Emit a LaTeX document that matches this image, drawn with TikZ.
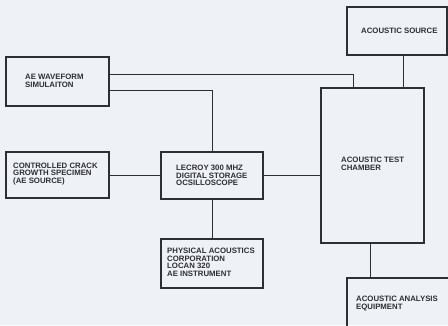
\documentclass[tikz,border=0pt]{standalone}
\usepackage{fontspec}
\setmainfont{Liberation Sans}
\definecolor{paper}{HTML}{EEF1F5}
\definecolor{ink}{HTML}{2E2E33}
\tikzset{
  box/.style={draw=ink, line width=1.2pt, rectangle, inner sep=0pt},
  txt/.style={anchor=west, align=left, inner sep=0pt, text=ink,
    font=\fontsize{7.8}{7.6}\selectfont\bfseries},
  wire/.style={draw=ink, line width=0.9pt}
}
\begin{document}
\begin{tikzpicture}[x=1pt,y=-1pt]

  \fill[paper] (0,0) rectangle (448,325);
  \useasboundingbox (0,0) rectangle (448,325);
  \clip (0,0) rectangle (448,325);

  % Boxes
  \node[box, minimum width=103pt, minimum height=49pt] at(57.5,81.5)(wave){};
  \node[box, minimum width=103pt, minimum height=46pt] at(57.5,175)(crack){};
  \node[box, minimum width=102pt, minimum height=47pt] at(212,175.5)(lecroy){};
  \node[box, minimum width=102pt, minimum height=49pt] at(212,263.5)(phys){};
  \node[box, minimum width=100pt, minimum height=48pt] at(397,31)(source){};
  \node[box, minimum width=103pt, minimum height=155pt] at(372.5,165.5)(chamber){};
  \node[box, minimum width=106pt, minimum height=58pt] at(400,307)(analysis){};

  % Labels
  \node[txt] at(25,81)(wavetext){AE WAVEFORM\\SIMULAITON};
  \node[txt] at(13,174)(cracktext){CONTROLLED CRACK\\GROWTH SPECIMEN\\(AE SOURCE)};
  \node[txt] at(176,175.5)(lecroytext){LECROY 300 MHZ\\DIGITAL STORAGE\\OCSILLOSCOPE};
  \node[txt] at(167,262.5)(physttext){PHYSICAL ACOUSTICS\\CORPORATION\\LOCAN 320\\AE INSTRUMENT};
  \node[txt] at(361,31)(sourcetext){ACOUSTIC SOURCE};
  \node[txt] at(341,164)(chambertext){ACOUSTIC TEST\\CHAMBER};
  \node[txt] at(356,303.5)(analysistext){ACOUSTIC ANALYSIS\\EQUIPMENT};

  % Connections
  \coordinate (trig) at(353,88);
  \draw[wire] ([yshift=7.5pt]wave.east) -| (trig);
  \draw[wire] ([yshift=-8.5pt]wave.east) -| (lecroy.north);
  \draw[wire] (crack.east) -- (crack.east -| lecroy.west);
  \draw[wire] (lecroy.east) -- (lecroy.east -| chamber.west);
  \draw[wire] (lecroy.south) -- (phys.north);
  \draw[wire] ([xshift=6pt]source.south) -- ([xshift=6pt]source.south |- chamber.north);
  \draw[wire] ([xshift=-2.5pt]chamber.south) -- ([xshift=-2.5pt]chamber.south |- analysis.north);

\end{tikzpicture}
\end{document}
